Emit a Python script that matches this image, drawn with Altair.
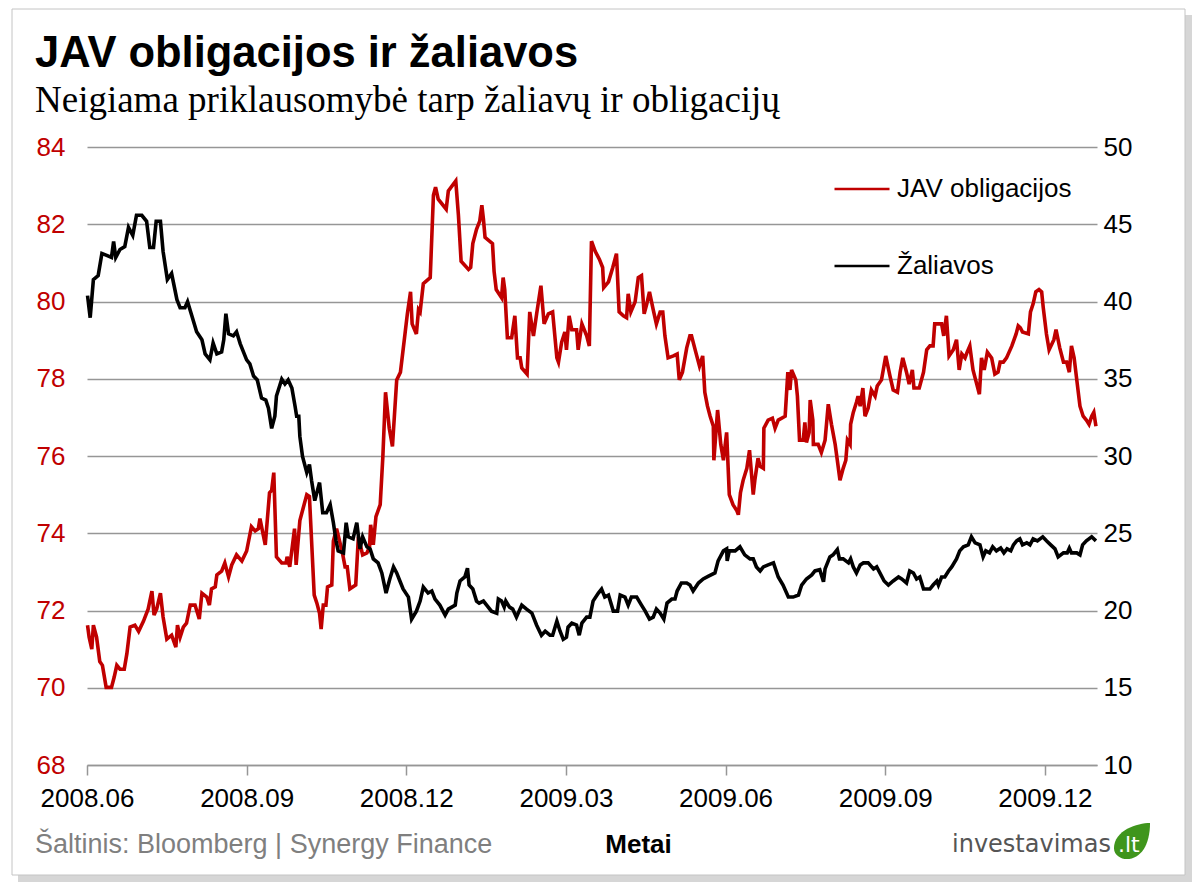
import altair as alt
import pandas as pd

# ---------------- data ----------------
tick_labels = ["2008.06", "2008.09", "2008.12", "2009.03", "2009.06", "2009.09", "2009.12"]
tick_months = [0, 3, 6, 9, 12, 15, 18]          # months since 2008.06
left_ticks = [68, 70, 72, 74, 76, 78, 80, 82, 84]
right_ticks = [10, 15, 20, 25, 30, 35, 40, 45, 50]

series_names = ["JAV obligacijos", "Žaliavos"]
series_colors = ["#C00000", "#000000"]

jav_month = [
    0.01, 0.04, 0.09, 0.12, 0.18, 0.24, 0.29, 0.36, 0.46, 0.51, 0.56, 0.62, 0.70, 0.75, 0.81, 0.90, 0.97,
    1.06, 1.15, 1.22, 1.26, 1.31, 1.38, 1.43, 1.50, 1.59, 1.67, 1.70, 1.75, 1.81, 1.87, 1.94, 2.03, 2.11,
    2.16, 2.25, 2.30, 2.34, 2.41, 2.44, 2.53, 2.59, 2.66, 2.72, 2.81, 2.91, 3.00,
    3.09, 3.16, 3.22, 3.25, 3.35, 3.43, 3.47, 3.51, 3.56, 3.66, 3.74, 3.76, 3.81, 3.90, 3.93, 4.00, 4.13,
    4.18, 4.27, 4.32, 4.37, 4.40, 4.44, 4.49, 4.52, 4.60, 4.63, 4.69, 4.80, 4.85, 4.89, 4.94, 5.05, 5.10,
    5.18, 5.26, 5.31, 5.33, 5.38, 5.43, 5.51, 5.56, 5.61, 5.68, 5.74, 5.82, 5.89, 5.98, 6.02, 6.08, 6.11,
    6.19, 6.23,
    6.26, 6.32, 6.45, 6.51, 6.55, 6.60, 6.75, 6.79, 6.93, 6.98, 7.03, 7.17, 7.21, 7.25, 7.32, 7.38, 7.42,
    7.45, 7.48, 7.62, 7.65, 7.69, 7.79, 7.82, 7.85, 7.90, 7.98, 8.04, 8.09, 8.14, 8.17, 8.27, 8.32, 8.39,
    8.45, 8.53, 8.59, 8.67, 8.75, 8.83, 8.86, 8.92, 8.98, 9.01, 9.06, 9.11, 9.20, 9.23, 9.30, 9.39, 9.44,
    9.48, 9.55, 9.63, 9.69, 9.71, 9.80, 9.88, 9.95, 10.00, 10.08, 10.14, 10.17, 10.22, 10.30, 10.36,
    10.42, 10.47, 10.52, 10.57, 10.64, 10.70, 10.77, 10.82, 10.86, 10.92, 11.02, 11.09, 11.13, 11.19,
    11.27, 11.33, 11.36, 11.44, 11.51, 11.57, 11.61, 11.66, 11.71, 11.77, 11.78, 11.85, 11.91, 11.96,
    12.02, 12.07, 12.14, 12.21, 12.24, 12.28, 12.33, 12.40, 12.45, 12.52, 12.55, 12.61,
    12.65, 12.71, 12.72, 12.80, 12.88, 12.93, 12.99, 13.12, 13.17, 13.21, 13.24, 13.32, 13.35, 13.39,
    13.46, 13.49, 13.52, 13.57, 13.59, 13.64, 13.65, 13.74, 13.80, 13.87, 13.93, 13.99, 14.06, 14.10,
    14.15, 14.21, 14.26, 14.29, 14.34, 14.35, 14.40, 14.46, 14.49, 14.53, 14.58, 14.62, 14.68, 14.74,
    14.81, 14.85, 14.93, 15.01, 15.09, 15.15, 15.23, 15.28, 15.33, 15.40, 15.45, 15.51, 15.54, 15.64,
    15.72, 15.78,
    15.84, 15.90, 15.93, 16.06, 16.10, 16.15, 16.20, 16.28, 16.34, 16.39, 16.44, 16.50, 16.54, 16.59,
    16.65, 16.72, 16.77, 16.81, 16.86, 16.92, 17.00, 17.06, 17.12, 17.16, 17.22, 17.28, 17.38, 17.46,
    17.50, 17.54, 17.58, 17.69, 17.73, 17.78, 17.83, 17.89, 17.94, 17.97, 18.03, 18.08, 18.17, 18.21,
    18.28, 18.35, 18.41, 18.46, 18.50, 18.55, 18.60, 18.66, 18.72, 18.78, 18.83, 18.88, 18.92, 18.96,
]
jav_value = [
    71.62, 71.31, 71.00, 71.62, 71.31, 70.68, 70.58, 70.01, 70.01, 70.27, 70.58, 70.48, 70.48, 70.89,
    71.57, 71.62, 71.46, 71.72, 72.04, 72.50, 71.88, 72.04, 72.45, 71.83, 71.26, 71.36, 71.05, 71.62,
    71.31, 71.57, 71.67, 72.14, 72.14, 71.78, 72.45, 72.35, 72.14, 72.56, 72.61, 72.92, 73.02, 73.23,
    72.87, 73.18, 73.44, 73.28, 73.54,
    74.17, 74.06, 74.12, 74.38, 73.70, 75.05, 75.11, 75.57, 73.39, 73.23, 73.23, 73.39, 73.13, 74.12,
    73.18, 74.33, 75.00, 74.95, 72.40, 72.19, 71.93, 71.52, 72.14, 72.14, 72.61, 72.66, 73.80, 74.12,
    73.49, 73.13, 73.13, 72.56, 72.66, 73.91, 73.44, 73.49, 73.65, 74.22, 73.70, 74.43, 74.74, 75.99,
    77.65, 76.72, 76.25, 77.97, 78.17, 79.21, 79.68, 80.25, 79.42, 79.16, 79.79,
    79.73, 80.46, 80.62, 82.75, 82.96, 82.65, 82.39, 82.86, 83.12, 82.23, 81.04, 80.83, 80.88, 81.50,
    81.87, 82.08, 82.49, 82.13, 81.66, 81.50, 80.78, 80.31, 80.10, 80.62, 80.31, 79.06, 79.06, 79.63,
    78.54, 78.54, 78.28, 78.12, 79.73, 79.11, 79.68, 80.41, 79.42, 79.68, 79.73, 78.54, 78.43, 78.95,
    79.21, 78.75, 79.63, 79.27, 79.27, 78.75, 79.42, 79.11, 78.85,
    81.56, 81.30, 81.09, 80.88, 80.36, 80.51, 80.88, 81.24, 79.73, 79.63, 79.58, 80.20, 79.73, 79.99,
    80.62, 80.67, 79.68, 79.94, 80.25, 79.79, 79.42, 79.73, 79.73, 79.11, 78.54, 78.59, 78.64, 77.97,
    78.17, 78.80, 79.11, 79.11, 78.69, 78.33, 78.59, 77.65, 77.29, 77.03, 76.77, 75.89, 77.19, 76.30,
    75.89, 76.61, 75.00, 74.74, 74.59, 74.48, 75.05, 75.37, 75.68, 76.15, 75.00, 75.37, 75.94,
    75.73, 75.68, 76.72, 76.93, 76.98, 76.72, 76.93, 77.03, 78.17, 77.71, 78.23, 77.97, 77.55, 76.41,
    76.41, 76.87, 76.35, 76.61, 77.45, 76.93, 76.30, 76.30, 76.09, 76.41, 77.34, 76.82, 76.30, 75.89,
    75.37, 75.68, 75.89, 76.41, 76.30, 76.82, 77.13, 77.39, 77.55, 77.29, 77.76, 77.03, 77.24, 77.71,
    77.55, 77.81, 77.97, 78.59, 78.07, 77.71, 77.65, 78.17, 78.54, 78.17, 77.86, 78.23, 77.76, 77.76,
    78.17, 78.75,
    78.85, 78.85, 79.42, 79.42, 79.11, 79.63, 78.59, 78.75, 79.01, 78.23, 78.64, 78.54, 78.69, 78.85,
    78.23, 77.86, 77.60, 78.54, 78.23, 78.69, 78.54, 78.12, 78.17, 78.43, 78.43, 78.54, 78.85, 79.16,
    79.37, 79.32, 79.21, 79.16, 79.73, 79.94, 80.25, 80.31, 80.25, 79.84, 79.16, 78.75, 79.01, 79.27,
    78.80, 78.43, 78.43, 78.17, 78.85, 78.54, 77.97, 77.29, 77.03, 76.93, 76.82, 77.03, 77.13, 76.77,
]

zal_month = [
    0.01, 0.06, 0.12, 0.21, 0.28, 0.37, 0.46, 0.50, 0.54, 0.62, 0.71, 0.78, 0.86, 0.93, 1.03, 1.12, 1.18,
    1.25, 1.30, 1.38, 1.43, 1.51, 1.59, 1.69, 1.75, 1.84, 1.89, 1.97, 2.06, 2.16, 2.22, 2.31, 2.37, 2.44,
    2.53, 2.57, 2.61, 2.66, 2.75, 2.81, 2.88, 3.00, 3.06,
    3.13, 3.20, 3.28, 3.36, 3.41, 3.47, 3.53, 3.56, 3.66, 3.72, 3.78, 3.85, 3.91, 3.94, 3.98, 4.00, 4.05,
    4.13, 4.18, 4.22, 4.28, 4.37, 4.43, 4.50, 4.57, 4.63, 4.68, 4.72, 4.82, 4.87, 4.91, 5.00, 5.07, 5.13,
    5.18, 5.26, 5.32, 5.38, 5.47, 5.54, 5.62, 5.69, 5.76, 5.82, 5.88, 5.94, 6.04, 6.10, 6.19,
    6.26, 6.32, 6.41, 6.48, 6.54, 6.63, 6.73, 6.79, 6.92, 6.95, 7.01, 7.10, 7.15, 7.18, 7.25, 7.32, 7.37,
    7.45, 7.51, 7.60, 7.70, 7.73, 7.79, 7.84, 7.87, 7.94, 8.00, 8.07, 8.17, 8.26, 8.36, 8.45, 8.54, 8.61,
    8.70, 8.75, 8.83, 8.89, 8.95, 9.01, 9.04, 9.11, 9.20, 9.25, 9.30, 9.39,
    9.45, 9.51, 9.61, 9.67, 9.73, 9.80, 9.89, 9.97, 10.02, 10.11, 10.17, 10.23, 10.33, 10.42, 10.49,
    10.57, 10.64, 10.70, 10.77, 10.84, 10.90, 10.99, 11.05, 11.09, 11.17, 11.27, 11.33, 11.39, 11.49,
    11.58, 11.68, 11.80, 11.86, 11.96, 12.02, 12.03, 12.07, 12.18, 12.27, 12.36, 12.46, 12.52, 12.58,
    12.65, 12.71, 12.80, 12.90, 12.99, 13.08, 13.18, 13.27, 13.37, 13.43, 13.52, 13.62, 13.68, 13.77,
    13.84, 13.87, 13.96, 14.02, 14.10, 14.14, 14.21, 14.31, 14.35, 14.40, 14.46, 14.53, 14.59, 14.68,
    14.78, 14.84, 14.90, 14.98, 15.06, 15.15, 15.25, 15.31, 15.40, 15.46, 15.53, 15.59, 15.65, 15.72,
    15.78,
    15.84, 15.90, 15.97, 16.00, 16.06, 16.12, 16.19, 16.25, 16.34, 16.40, 16.47, 16.56, 16.62, 16.69,
    16.78, 16.84, 16.89, 16.96, 17.02, 17.09, 17.17, 17.23, 17.29, 17.36, 17.41, 17.47, 17.53, 17.58,
    17.66, 17.72, 17.78, 17.86, 17.96, 18.03, 18.11, 18.19, 18.25, 18.35, 18.42, 18.46, 18.50, 18.60,
    18.66, 18.71, 18.78, 18.88, 18.96,
]
zal_value = [
    40.38, 38.95, 41.42, 41.68, 43.11, 42.98, 42.85, 43.89, 42.85, 43.37, 43.55, 44.80, 44.28, 45.58,
    45.58, 45.19, 43.50, 43.50, 45.19, 45.19, 43.24, 41.42, 41.81, 40.12, 39.60, 39.60, 39.99, 39.08,
    38.04, 37.52, 36.61, 36.22, 37.31, 36.61, 36.74, 37.52, 39.21, 37.91, 37.78, 38.04, 37.26, 36.22,
    35.96,
    35.18, 34.92, 33.75, 33.62, 33.09, 31.79, 32.57, 33.88, 34.97, 34.66, 34.92, 34.40, 33.22, 32.57,
    32.57, 31.27, 29.97, 28.93, 29.45, 28.41, 27.11, 28.28, 26.33, 26.33, 26.85, 25.68, 24.51, 23.86,
    23.73, 25.68, 24.77, 24.64, 25.68, 23.99, 24.77, 24.12, 23.99, 23.34, 23.08, 22.43, 21.13, 22.04,
    22.82, 22.43, 21.91, 21.39, 20.87, 19.44, 19.96,
    20.61, 21.52, 21.13, 21.26, 20.74, 20.35, 19.70, 20.09, 20.35, 21.13, 21.91, 22.17, 22.74, 21.65,
    21.39, 20.61, 20.48, 20.61, 20.35, 19.96, 19.83, 20.74, 20.61, 20.22, 20.61, 20.22, 20.09, 19.57,
    20.35, 20.09, 19.83, 19.05, 18.40, 18.66, 18.40, 18.40, 19.31, 18.66, 18.14, 18.27, 18.92, 19.18,
    19.05, 18.40, 19.18, 19.57,
    19.57, 20.61, 21.13, 21.39, 20.87, 21.00, 19.96, 19.96, 21.00, 20.87, 20.35, 20.87, 20.87, 20.35,
    19.96, 19.44, 19.57, 20.09, 19.83, 19.44, 20.48, 20.74, 20.74, 21.26, 21.78, 21.78, 21.65, 21.26,
    21.78, 22.04, 22.22, 22.43, 23.21, 23.86, 23.99, 23.21, 23.86, 23.86, 24.12, 23.60, 23.34, 23.34,
    22.82,
    22.56, 22.82, 22.95, 23.08, 22.17, 21.65, 20.87, 20.87, 21.00, 21.65, 22.04, 22.30, 22.56, 22.64,
    21.86, 22.69, 23.47, 23.60, 23.94, 23.34, 23.34, 23.08, 23.34, 22.82, 22.43, 22.95, 23.08, 23.08,
    22.69, 22.82, 22.43, 21.91, 21.65, 21.91, 22.17, 22.04, 21.78, 22.56, 22.43, 22.04, 22.17, 21.39,
    21.39,
    21.39, 21.65, 21.91, 21.65, 22.17, 22.17, 22.56, 22.82, 23.34, 23.86, 24.12, 24.25, 24.77, 24.38,
    24.25, 23.47, 23.86, 23.73, 24.12, 23.86, 24.04, 23.73, 23.99, 23.86, 24.25, 24.51, 24.64, 24.25,
    24.38, 24.25, 24.64, 24.51, 24.77, 24.51, 24.25, 23.99, 23.47, 23.73, 23.73, 24.04, 23.73, 23.73,
    23.60, 24.25, 24.51, 24.77, 24.51,
]

title_text = "JAV obligacijos ir žaliavos"
subtitle_text = "Neigiama priklausomybė tarp žaliavų ir obligacijų"
source_text = "Šaltinis: Bloomberg | Synergy Finance"
x_title = "Metai"
logo_text = "investavimas"
logo_suffix = ".lt"

# ---------------- build ----------------
df = pd.concat([
    pd.DataFrame({"men": jav_month, "v": jav_value, "serija": series_names[0]}),
    pd.DataFrame({"men": zal_month, "v": zal_value, "serija": series_names[1]}),
], ignore_index=True)

FONT = "Liberation Sans"
GRID = "#969696"
label_expr = "[" + ",".join("'%s'" % t for t in tick_labels) + "][round(datum.value/3)]"

x_enc = alt.X(
    "men:Q",
    scale=alt.Scale(domain=[0, 18.98], nice=False, zero=False),
    axis=alt.Axis(
        values=tick_months, labelExpr=label_expr, labelFlush=False, labelOverlap=False,
        labelFont=FONT, labelFontSize=26, labelColor="#000000", labelPadding=10,
        domainColor=GRID, domainWidth=1.5, tickColor=GRID, tickWidth=1.5, tickSize=10,
        grid=False, title=x_title, titleFont=FONT, titleFontSize=26, titleFontWeight="bold",
        titleColor="#000000", titleX=551, titleY=87, titleAlign="center",
        titleBaseline="alphabetic",
    ),
)

color_enc = alt.Color(
    "serija:N",
    scale=alt.Scale(domain=series_names, range=series_colors),
    legend=alt.Legend(
        orient="none", legendX=746, legendY=13, direction="vertical", title=None,
        symbolType="stroke", symbolSize=3025, symbolStrokeWidth=2.5,
        labelFont=FONT, labelFontSize=26, labelColor="#000000", labelOffset=6,
        rowPadding=35, padding=0, labelLimit=400,
    ),
)

base = alt.Chart(df)

jav = base.transform_filter(alt.datum.serija == series_names[0]).mark_line(strokeWidth=3.6).encode(
    x=x_enc,
    y=alt.Y(
        "v:Q",
        scale=alt.Scale(domain=[68, 84], nice=False, zero=False),
        axis=alt.Axis(
            orient="left", values=left_ticks, title=None, domain=False, ticks=False,
            labelFont=FONT, labelFontSize=26, labelColor="#C00000", labelPadding=22,
            grid=True, gridColor=GRID, gridWidth=1.5,
        ),
    ),
    color=color_enc,
)

zal = base.transform_filter(alt.datum.serija == series_names[1]).mark_line(strokeWidth=3.6).encode(
    x=x_enc,
    y=alt.Y(
        "v:Q",
        scale=alt.Scale(domain=[10, 50], nice=False, zero=False),
        axis=alt.Axis(
            orient="right", values=right_ticks, title=None, domain=False, ticks=False,
            labelFont=FONT, labelFontSize=26, labelColor="#000000", labelPadding=6,
            grid=False,
        ),
    ),
    color=color_enc,
)

one = pd.DataFrame({"k": [0]})

# outer frame (outline only, so the axes stay visible) and its drop shadow bands
shadow_right = alt.Chart(one).mark_rect(fill="#d6d6d6").encode(
    x=alt.value(1098), x2=alt.value(1105), y=alt.value(-132), y2=alt.value(735)
)
shadow_bottom = alt.Chart(one).mark_rect(fill="#d6d6d6").encode(
    x=alt.value(-69), x2=alt.value(1105), y=alt.value(728), y2=alt.value(735)
)
frame = alt.Chart(one).mark_rect(fillOpacity=0, stroke="#c4c4c4", strokeWidth=1).encode(
    x=alt.value(-75), x2=alt.value(1098), y=alt.value(-138), y2=alt.value(728)
)


def text_layer(s, x, y, size, font=FONT, **kw):
    return alt.Chart(pd.DataFrame({"t": [s]})).mark_text(
        align="left", baseline="alphabetic", fontSize=size, font=font, **kw
    ).encode(text="t:N", x=alt.value(x), y=alt.value(y))


title = text_layer(title_text, -52, -80, 43.5, fontWeight="bold", color="#000000")
subtitle = text_layer(subtitle_text, -52, -35, 37, font="Liberation Serif", color="#000000")
source = text_layer(source_text, -52, 706, 27, color="#7f7f7f")
logo = text_layer(logo_text, 865, 705, 24, font="DejaVu Sans", color="#555555")

leaf_path = "M1,-1 C0.3,-1 -1,-0.6 -1,0.4 C-1,0.8 -0.6,1 -0.3,1 C0.5,1 1,0.2 1,-1 Z"
leaf = alt.Chart(one).mark_point(
    shape=leaf_path, size=1300, filled=True, color="#3f951c", opacity=1
).encode(x=alt.value(1045), y=alt.value(694))
logo_lt = text_layer(logo_suffix, 1031, 705, 22, font="DejaVu Sans", color="#ffffff")

chart = alt.layer(
    shadow_right, shadow_bottom, frame, jav, zal, title, subtitle, source, logo, leaf, logo_lt
).resolve_scale(y="independent").properties(
    width=1010, height=618,
    padding={"left": 79, "top": 139, "right": 95, "bottom": 117},
    autosize=alt.AutoSizeParams(type="none"),
    background="#ffffff",
).configure_view(stroke=None)

chart.save("out.html", embed_options={"renderer": "svg", "actions": False})
